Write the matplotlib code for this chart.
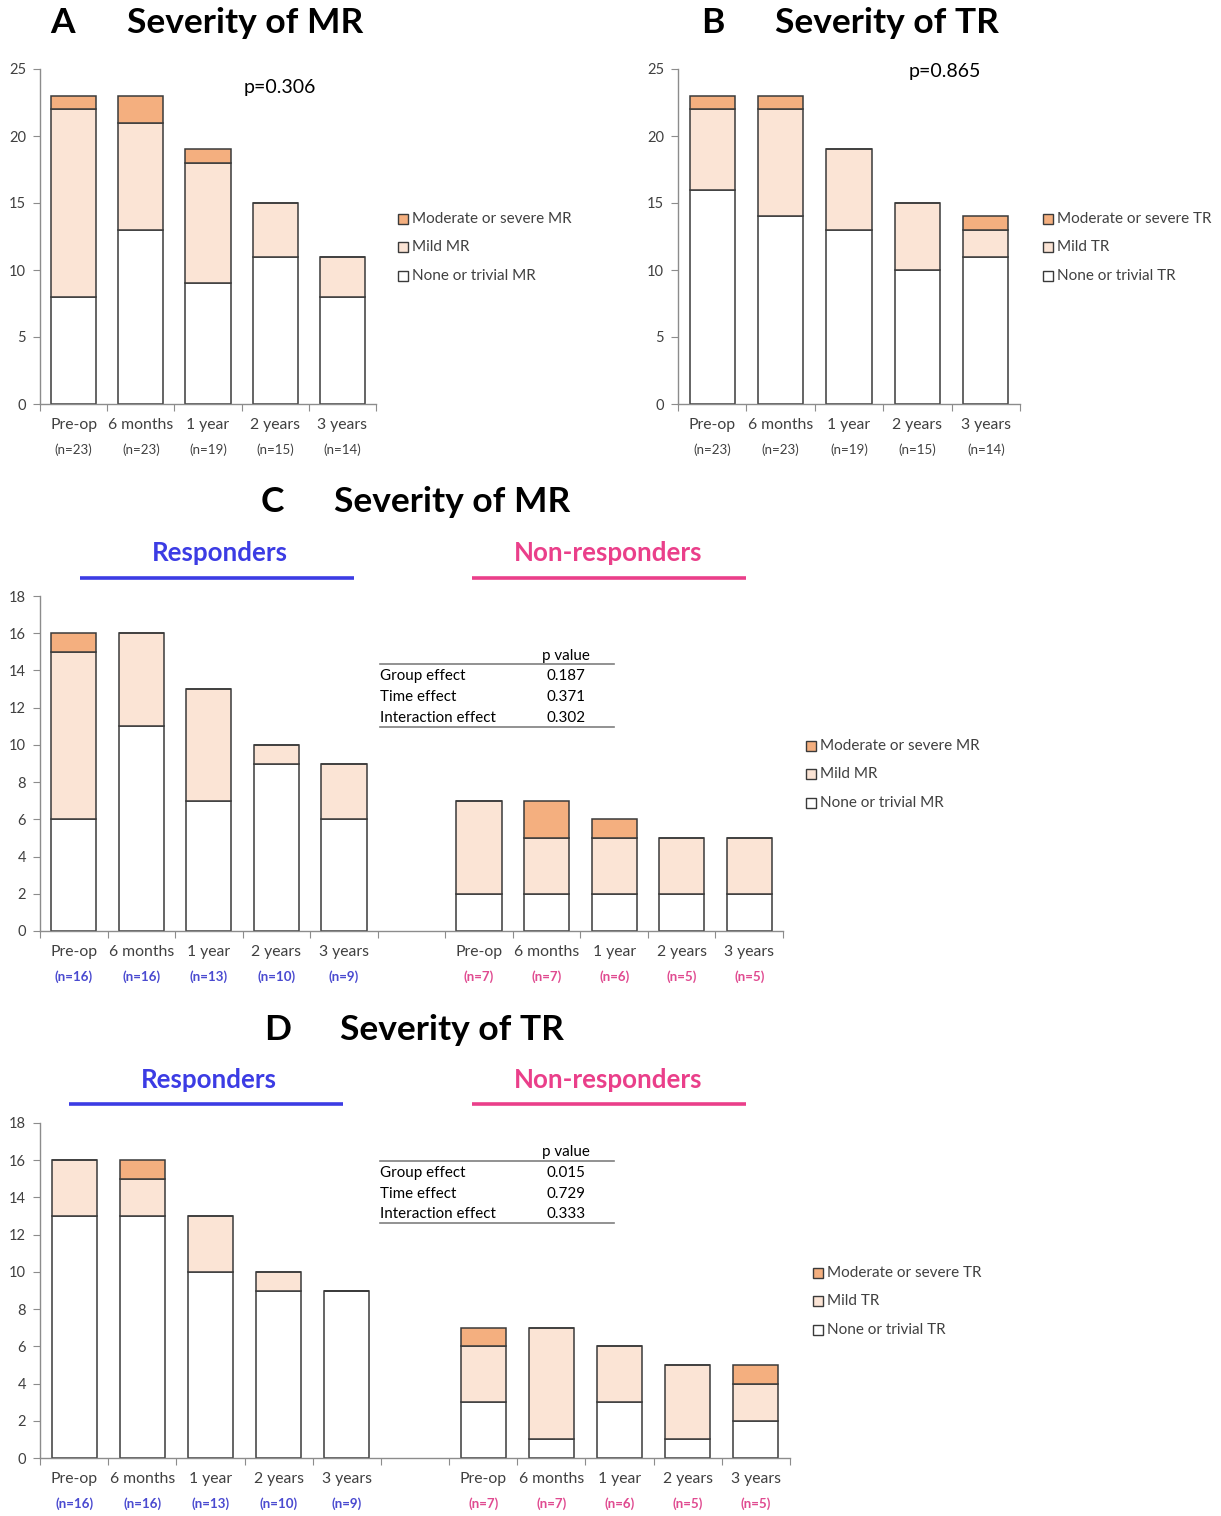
import matplotlib
matplotlib.use("Agg")
import matplotlib.pyplot as plt
from matplotlib.patches import Rectangle
from matplotlib.lines import Line2D
import numpy as np

plt.rcParams['font.family'] = ['Lato', 'DejaVu Sans']

W, H = 1221, 1516

periods = ["Pre-op", "6 months", "1 year", "2 years", "3 years"]

# Panel A: mitral regurgitation, all patients
mr_all_none = [8, 13, 9, 11, 8]
mr_all_mild = [14, 8, 9, 4, 3]
mr_all_mod = [1, 2, 1, 0, 0]
mr_all_n = [23, 23, 19, 15, 14]

# Panel B: tricuspid regurgitation, all patients
tr_all_none = [16, 14, 13, 10, 11]
tr_all_mild = [6, 8, 6, 5, 2]
tr_all_mod = [1, 1, 0, 0, 1]
tr_all_n = [23, 23, 19, 15, 14]

# Panel C: mitral regurgitation by response
mr_resp_none = [6, 11, 7, 9, 6]
mr_resp_mild = [9, 5, 6, 1, 3]
mr_resp_mod = [1, 0, 0, 0, 0]
mr_resp_n = [16, 16, 13, 10, 9]
mr_nonresp_none = [2, 2, 2, 2, 2]
mr_nonresp_mild = [5, 3, 3, 3, 3]
mr_nonresp_mod = [0, 2, 1, 0, 0]
mr_nonresp_n = [7, 7, 6, 5, 5]

# Panel D: tricuspid regurgitation by response
tr_resp_none = [13, 13, 10, 9, 9]
tr_resp_mild = [3, 2, 3, 1, 0]
tr_resp_mod = [0, 1, 0, 0, 0]
tr_resp_n = [16, 16, 13, 10, 9]
tr_nonresp_none = [3, 1, 3, 1, 2]
tr_nonresp_mild = [3, 6, 3, 4, 2]
tr_nonresp_mod = [1, 0, 0, 0, 1]
tr_nonresp_n = [7, 7, 6, 5, 5]

p_A = "p=0.306"
p_B = "p=0.865"
effects = ["Group effect", "Time effect", "Interaction effect"]
p_C = ["0.187", "0.371", "0.302"]
p_D = ["0.015", "0.729", "0.333"]

C_NONE = "#FFFFFF"
C_MILD = "#FBE4D5"
C_MOD = "#F4AF7F"
EDGE = "#3A3A3A"
AXC = "#8C8C8C"
TXT = "#404040"
BLUE = "#3C3CE4"
PINK = "#EA3F8A"
NBLUE = "#4A4AD0"
NPINK = "#E04A90"
LW = 1.1
PX = 0.72  # points per pixel at 100 dpi

fig = plt.figure(figsize=(W / 100, H / 100), dpi=100)
fig.patch.set_facecolor("white")


def fx(x):
    return x / W


def fy(y):
    return 1 - y / H


def make_axes(x0, x1, ytop, ybot, ncat, ymax, ystep):
    ax = fig.add_axes([fx(x0), fy(ybot), (x1 - x0) / W, (ybot - ytop) / H])
    ax.set_xlim(-0.5, ncat - 0.5)
    ax.set_ylim(0, ymax)
    for s in ("top", "right"):
        ax.spines[s].set_visible(False)
    for s in ("left", "bottom"):
        ax.spines[s].set_color(AXC)
        ax.spines[s].set_linewidth(1.0)
    ax.set_yticks(np.arange(0, ymax + 1, ystep))
    ax.tick_params(axis="y", length=5, color=AXC, labelsize=10.5,
                   labelcolor=TXT, pad=5)
    ax.set_xticks(np.arange(ncat + 1) - 0.5)
    ax.set_xticklabels([])
    ax.tick_params(axis="x", length=5, color=AXC)
    ax.patch.set_alpha(0)
    return ax


def stacked(ax, xs, none, mild, mod, width):
    none = np.array(none, float)
    mild = np.array(mild, float)
    mod = np.array(mod, float)
    ax.bar(xs, none, width, color=C_NONE, edgecolor=EDGE, linewidth=LW)
    ax.bar(xs, mild, width, bottom=none, color=C_MILD, edgecolor=EDGE, linewidth=LW)
    ax.bar(xs, mod, width, bottom=none + mild, color=C_MOD, edgecolor=EDGE, linewidth=LW)


def cat_labels(ax, xs, labels, ns, ncolor, nweight, dy1, dy2):
    for x, lab, n in zip(xs, labels, ns):
        ax.annotate(lab, xy=(x, 0), xycoords=("data", "axes fraction"),
                    xytext=(0, -dy1 * PX), textcoords="offset points",
                    ha="center", va="center", fontsize=11.3, color=TXT)
        ax.annotate(f"(n={n})", xy=(x, 0), xycoords=("data", "axes fraction"),
                    xytext=(0, -dy2 * PX), textcoords="offset points",
                    ha="center", va="center", fontsize=9.6, color=ncolor,
                    fontweight=nweight)


def legend(x, ys, labels):
    cols = [C_MOD, C_MILD, C_NONE]
    for y, lab, c in zip(ys, labels, cols):
        fig.patches.append(Rectangle((fx(x), fy(y + 5)), 10 / W, 10 / H,
                                     transform=fig.transFigure, facecolor=c,
                                     edgecolor=EDGE, linewidth=1.0))
        fig.text(fx(x + 14), fy(y), lab, ha="left", va="center",
                 fontsize=11, color=TXT)


def title(letter, lx, text, tx, y):
    fig.text(fx(lx), fy(y), letter, ha="center", va="center",
             fontsize=25.5, fontweight="bold", color="black")
    fig.text(fx(tx), fy(y), text, ha="center", va="center",
             fontsize=25.5, fontweight="bold", color="black")


def pvalue_table(x0, x1, xv, y_head, y_top, rows_y, y_bot, values):
    fig.text(fx(xv), fy(y_head), "p value", ha="center", va="center",
             fontsize=10.9, color="black")
    for yy in (y_top, y_bot):
        fig.lines.append(Line2D([fx(x0), fx(x1)], [fy(yy), fy(yy)],
                                transform=fig.transFigure, color="#7F7F7F",
                                linewidth=1.2))
    for yy, lab, v in zip(rows_y, effects, values):
        fig.text(fx(x0), fy(yy), lab, ha="left", va="center",
                 fontsize=10.9, color="black")
        fig.text(fx(xv), fy(yy), v, ha="center", va="center",
                 fontsize=10.9, color="black")


def group_header(text, color, xc, y, lx0, lx1, ly):
    fig.text(fx(xc), fy(y), text, ha="center", va="center", fontsize=18.6,
             fontweight="bold", color=color)
    fig.lines.append(Line2D([fx(lx0), fx(lx1)], [fy(ly), fy(ly)],
                            transform=fig.transFigure, color=color,
                            linewidth=2.6, solid_capstyle="butt"))


# ---- Panel A ----
axA = make_axes(40, 376, 69, 404, 5, 25, 5)
xs5 = np.arange(5)
stacked(axA, xs5, mr_all_none, mr_all_mild, mr_all_mod, 0.67)
cat_labels(axA, xs5, periods, mr_all_n, TXT, "normal", 21, 46)
title("A", 63, "Severity of MR", 245, 23)
fig.text(fx(280), fy(87), p_A, ha="center", va="center", fontsize=14, color="black")
legend(398, [219, 247, 276], ["Moderate or severe MR", "Mild MR", "None or trivial MR"])

# ---- Panel B ----
axB = make_axes(678, 1020, 69, 404, 5, 25, 5)
stacked(axB, xs5, tr_all_none, tr_all_mild, tr_all_mod, 0.66)
cat_labels(axB, xs5, periods, tr_all_n, TXT, "normal", 21, 46)
title("B", 713, "Severity of TR", 887, 23)
fig.text(fx(945), fy(71), p_B, ha="center", va="center", fontsize=14, color="black")
legend(1043, [219, 247, 276], ["Moderate or severe TR", "Mild TR", "None or trivial TR"])

# ---- Panel C ----
xs_r = np.arange(5)
xs_n = np.arange(6, 11)
axC = make_axes(40, 783, 596, 931, 11, 18, 2)
stacked(axC, xs_r, mr_resp_none, mr_resp_mild, mr_resp_mod, 0.67)
stacked(axC, xs_n, mr_nonresp_none, mr_nonresp_mild, mr_nonresp_mod, 0.67)
cat_labels(axC, xs_r, periods, mr_resp_n, NBLUE, "bold", 21, 46)
cat_labels(axC, xs_n, periods, mr_nonresp_n, NPINK, "bold", 21, 46)
title("C", 272, "Severity of MR", 452, 502)
group_header("Responders", BLUE, 220, 553, 80, 354, 578)
group_header("Non-responders", PINK, 608, 553, 472, 746, 578)
pvalue_table(380, 614, 566, 656, 664, [676, 697, 718], 727, p_C)
legend(806, [746, 774, 803], ["Moderate or severe MR", "Mild MR", "None or trivial MR"])

# ---- Panel D ----
axD = make_axes(40, 790, 1123, 1458, 11, 18, 2)
stacked(axD, xs_r, tr_resp_none, tr_resp_mild, tr_resp_mod, 0.66)
stacked(axD, xs_n, tr_nonresp_none, tr_nonresp_mild, tr_nonresp_mod, 0.66)
cat_labels(axD, xs_r, periods, tr_resp_n, NBLUE, "bold", 21, 46)
cat_labels(axD, xs_n, periods, tr_nonresp_n, NPINK, "bold", 21, 46)
title("D", 278, "Severity of TR", 452, 1030)
group_header("Responders", BLUE, 209, 1080, 69, 343, 1104)
group_header("Non-responders", PINK, 608, 1080, 472, 746, 1104)
pvalue_table(380, 614, 566, 1152, 1161, [1173, 1194, 1214], 1223, p_D)
legend(813, [1273, 1301, 1330], ["Moderate or severe TR", "Mild TR", "None or trivial TR"])

fig.savefig("out.png", dpi=100, facecolor="white")
